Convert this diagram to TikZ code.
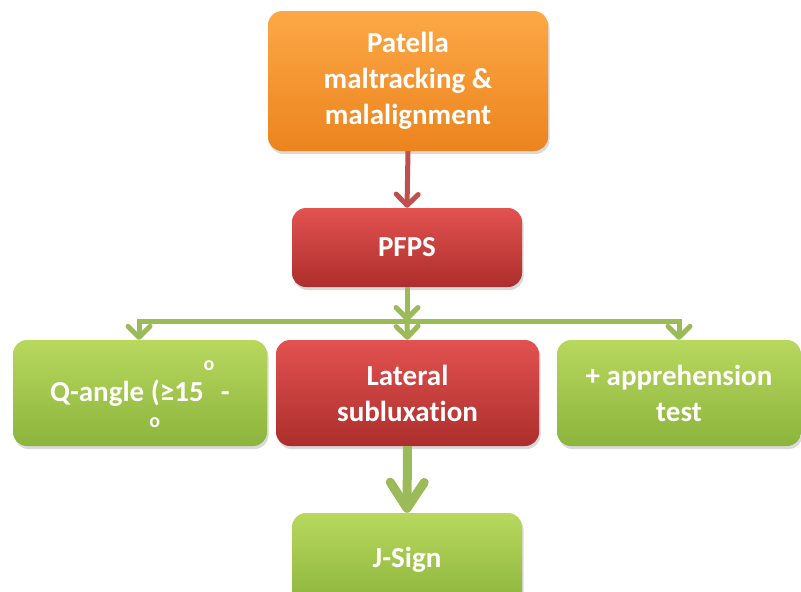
\documentclass[tikz,border=0pt]{standalone}
\usepackage{fontspec}
\setmainfont{Carlito}[Ligatures=NoCommon]
\usepackage{tikz}
\usetikzlibrary{arrows.meta, shadows}
\definecolor{myorange}{RGB}{236,132,30}
\definecolor{toporange}{RGB}{252,168,70}
\definecolor{myred}{RGB}{172,46,44}
\definecolor{topred}{RGB}{226,82,80}
\definecolor{mygreen}{RGB}{140,180,60}
\definecolor{topgreen}{RGB}{184,216,94}
\definecolor{linered}{RGB}{192,80,77}
\definecolor{linegreen}{RGB}{155,187,89}
\newcommand{\degmark}[1]{\smash{\raisebox{#1}{\fontsize{20}{20}\selectfont o}}}
\tikzset{
  box/.style={rectangle, rounded corners=14pt, align=center,
    text=white, font=\fontsize{29}{36}\selectfont\bfseries,
    drop shadow={shadow xshift=1.5pt, shadow yshift=-3pt, opacity=0.3}},
  orangeblock/.style={box, top color=toporange, bottom color=myorange,
    minimum width=280pt, minimum height=140pt},
  redblock/.style={box, top color=topred, bottom color=myred,
    minimum width=230pt, minimum height=79pt},
  greenblock/.style={box, top color=topgreen, bottom color=mygreen,
    minimum width=230pt, minimum height=106pt},
  redarrow/.style={-{Straight Barb[length=11pt, width=22pt, round]},
    line width=5pt, color=linered},
  greenarrow/.style={-{Straight Barb[length=11pt, width=22pt, round]},
    line width=5pt, color=linegreen},
  bigarrow/.style={-{Straight Barb[length=26pt, width=34pt, round]},
    line width=9pt, color=linegreen}
}
\begin{document}
\begin{tikzpicture}[x=1pt, y=-1pt]
  \useasboundingbox (0,0) rectangle (801,592);

  % Top of the chain
  \node[orangeblock] (patella) at (408, 81) {Patella\\maltracking \&\\malalignment};
  \node[redblock] (pfps) at (407, 247.5) {PFPS};

  % Middle row
  \node[greenblock, minimum width=254pt] (qangle) at (140, 393)
    {Q-angle\rlap{\hspace{5pt}\degmark{-26pt}} (≥15\degmark{31pt}\ -};
  \node[redblock, minimum width=263pt, minimum height=106pt] (lateral) at (407.5, 393)
    {Lateral\\subluxation};
  \node[greenblock, minimum width=244pt] (appr) at (679, 393) {+ apprehension\\test};

  % Bottom
  \node[greenblock, minimum height=94pt] (jsign) at (407, 560) {J-Sign};

  % Connections
  \coordinate (split) at (407, 321);
  \draw[redarrow] (patella.south) -- (pfps.north);
  \draw[greenarrow] (pfps.south) -- (split);
  \draw[greenarrow] (split) -| ([xshift=-1pt]qangle.north);
  \draw[greenarrow] (split) -| (appr.north);
  \draw[greenarrow] (split) -- (lateral.north);
  \draw[bigarrow] (lateral.south) -- (jsign.north);
\end{tikzpicture}
\end{document}
